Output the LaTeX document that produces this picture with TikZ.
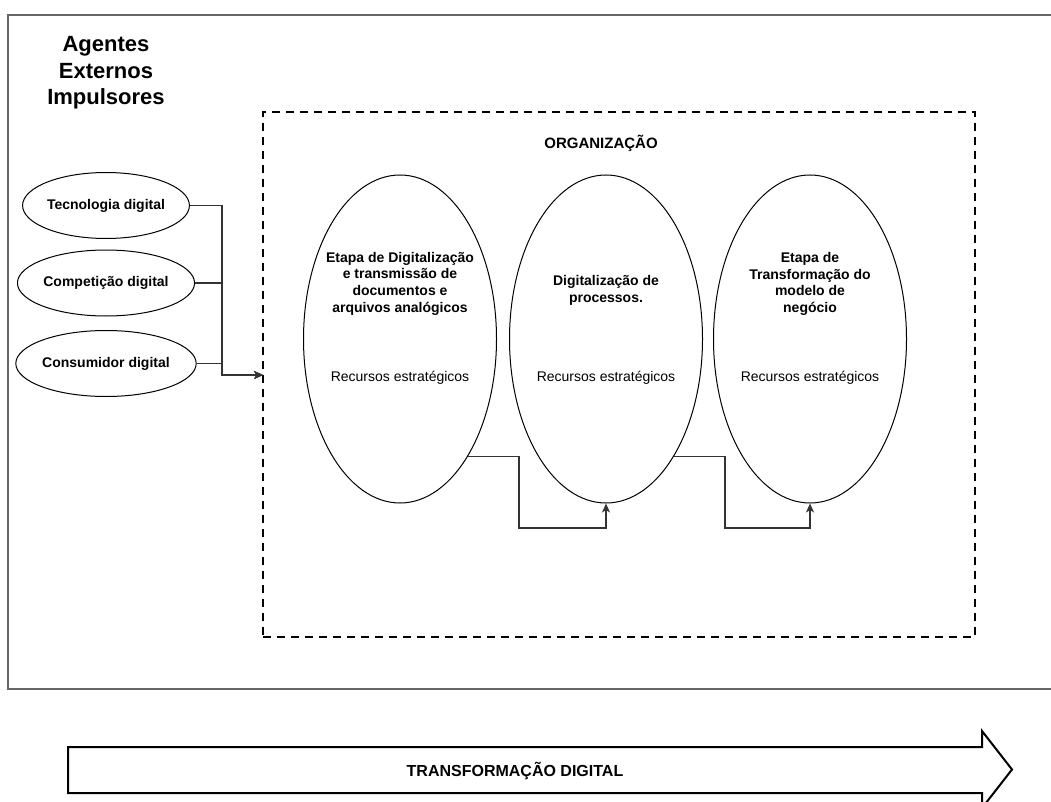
\documentclass[tikz,border=0pt]{standalone}
\usepackage{fontspec}
\setmainfont{Liberation Sans}
\usetikzlibrary{arrows.meta,shapes.geometric}
\begin{document}
\begin{tikzpicture}[x=1pt,y=-1pt,
  agent/.style={ellipse, draw, line width=1pt, minimum width=156pt, minimum height=66pt,
    inner sep=0pt, font=\fontsize{14}{16.7}\selectfont\bfseries},
  stage/.style={ellipse, draw, line width=1pt, minimum width=193pt, minimum height=328pt, inner sep=0pt},
  stagetitle/.style={align=center, inner sep=0pt, font=\fontsize{14}{16.7}\selectfont\bfseries},
  resource/.style={inner sep=0pt, font=\fontsize{14}{16.7}\selectfont},
  conn/.style={line width=1.2pt, draw=black!80},
  flow/.style={-{Stealth[length=9pt,width=8pt,inset=2.5pt]}}
]
\useasboundingbox (0,0) rectangle (1051,802);

% outer frame (open to the right)
\draw[line width=1.3pt, draw=black!60] (1060,15) -- (8,15) -- (8,689) -- (1060,689);

% title of the external agents
\node[align=center, inner sep=0pt, font=\fontsize{22}{26.5}\selectfont\bfseries] (agtitle) at (106,73)
  {Agentes\\Externos\\Impulsores};

% organisation boundary
\node[draw, line width=2pt, dash pattern=on 8pt off 6pt, minimum width=712pt, minimum height=525pt,
  inner sep=0pt] (org) at (619,374.5) {};
\node[inner sep=0pt, font=\fontsize{15}{18}\selectfont\bfseries] (orgname) at (601,143) {ORGANIZAÇÃO};

% external agents
\node[agent] (tec) at (106,205.5) {Tecnologia digital};
\node[agent] (comp) at (106,283) {Competição digital};
\node[agent] (cons) at (106,363.5) {Consumidor digital};
\coordinate (join) at (222,375);
\coordinate (entry) at (263,375);
\draw[conn, flow] (tec.east) -| (join) -- (entry);
\draw[conn, flow] (comp.east) -| (join) -- (entry);
\draw[conn, flow] (cons.east) -| (join) -- (entry);

% stages
\node[stage] (s1) at (400,339) {};
\node[stage] (s2) at (606,339) {};
\node[stage] (s3) at (810,339) {};
\node[stagetitle] (s1t) at (400,283.5) {Etapa de Digitalização\\e transmissão de\\documentos e\\arquivos analógicos};
\node[stagetitle] (s2t) at (606,290.5) {Digitalização de\\processos.};
\node[stagetitle] (s3t) at (810,284) {Etapa de\\Transformação do\\modelo de\\negócio};
\node[resource] (s1r) at (400,378) {Recursos estratégicos};
\node[resource] (s2r) at (606,378) {Recursos estratégicos};
\node[resource] (s3r) at (810,378) {Recursos estratégicos};

\coordinate (bend1) at (519,528);
\coordinate (bend2) at (725,528);
\draw[conn, flow] (s1.-60) -| (bend1) -| (s2.south);
\draw[conn, flow] (s2.-60) -| (bend2) -| (s3.south);

% timeline arrow
\draw[line width=2pt, line join=miter] (68,747) -- (982,747) -- (982,731) -- (1012,769.5)
  -- (982,808) -- (982,793) -- (68,793) -- cycle;
\node[inner sep=0pt, font=\fontsize{16}{19}\selectfont\bfseries] (dt) at (515,771) {TRANSFORMAÇÃO DIGITAL};
\end{tikzpicture}
\end{document}
